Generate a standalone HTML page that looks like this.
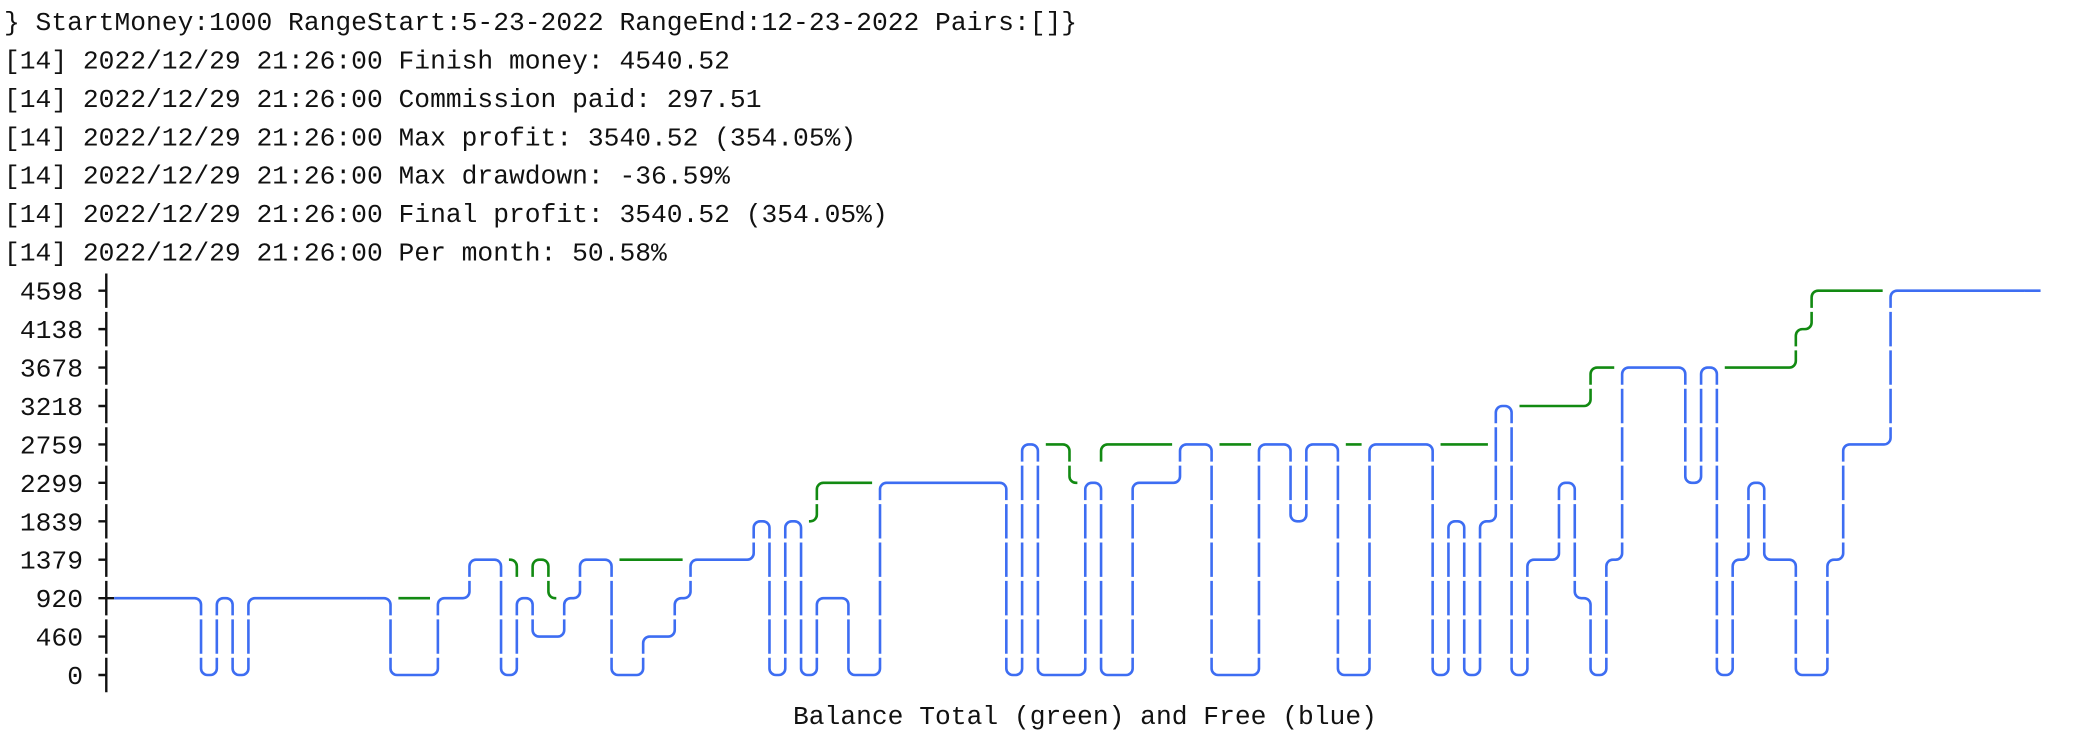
<!DOCTYPE html>
<html><head><meta charset="utf-8">
<style>
html,body{margin:0;padding:0;background:#fff;}
svg{display:block;}
.t{font-family:"Liberation Mono",monospace;font-size:26.3px;fill:#111;}
</style></head>
<body>
<svg id="chart" width="2077" height="732" viewBox="0 0 2077 732" xmlns="http://www.w3.org/2000/svg">
<rect width="2077" height="732" fill="#fff"/>
<g>
<text class="t" x="4" y="30" xml:space="preserve">} StartMoney:1000 RangeStart:5-23-2022 RangeEnd:12-23-2022 Pairs:[]}</text>
<text class="t" x="4" y="68.4" xml:space="preserve">[14] 2022/12/29 21:26:00 Finish money: 4540.52</text>
<text class="t" x="4" y="106.9" xml:space="preserve">[14] 2022/12/29 21:26:00 Commission paid: 297.51</text>
<text class="t" x="4" y="145.3" xml:space="preserve">[14] 2022/12/29 21:26:00 Max profit: 3540.52 (354.05%)</text>
<text class="t" x="4" y="183.7" xml:space="preserve">[14] 2022/12/29 21:26:00 Max drawdown: -36.59%</text>
<text class="t" x="4" y="222.2" xml:space="preserve">[14] 2022/12/29 21:26:00 Final profit: 3540.52 (354.05%)</text>
<text class="t" x="4" y="260.6" xml:space="preserve">[14] 2022/12/29 21:26:00 Per month: 50.58%</text>
</g>
<g id="yaxis"></g>
<g id="plot"></g>
<text class="t" x="793" y="724" xml:space="preserve">Balance Total (green) and Free (blue)</text>
</svg>
<script>
const tickLabels = ["0","460","920","1379","1839","2299","2759","3218","3678","4138","4598"];
const maxValue = 4598;
const totalSeries = [
920,920,920,920,920,920,920,920,920,920,
920,920,920,920,920,920,920,920,920,920,
920,920,920,1379,1379,1379,920,1379,920,920,
1379,1379,1379,1379,1379,1379,1379,1379,1379,1379,
1379,1839,1839,1839,1839,2299,2299,2299,2299,2299,
2299,2299,2299,2299,2299,2299,2299,2299,2759,2759,
2759,2299,2299,2759,2759,2759,2759,2759,2759,2759,
2759,2759,2759,2759,2759,2759,2759,2759,2759,2759,
2759,2759,2759,2759,2759,2759,2759,2759,3218,3218,
3218,3218,3218,3218,3678,3678,3678,3678,3678,3678,
3678,3678,3678,3678,3678,3678,3678,4138,4598,4598,
4598,4598,4598,4598,4598,4598,4598,4598,4598,4598,
4598,4598,4598];
const freeSeries = [
920,920,920,920,920,920,0,920,0,920,
920,920,920,920,920,920,920,920,0,0,
0,920,920,1379,1379,0,920,460,460,920,
1379,1379,0,0,460,460,920,1379,1379,1379,
1379,1839,0,1839,0,920,920,0,0,2299,
2299,2299,2299,2299,2299,2299,2299,0,2759,0,
0,0,2299,0,0,2299,2299,2299,2759,2759,
0,0,0,2759,2759,1839,2759,2759,0,0,
2759,2759,2759,2759,0,1839,0,1839,3218,0,
1379,1379,2299,920,0,1379,3678,3678,3678,3678,
2299,3678,0,1379,2299,1379,1379,0,0,1379,
2759,2759,2759,4598,4598,4598,4598,4598,4598,4598,
4598,4598,4598];

const NS = "http://www.w3.org/2000/svg";
const CW = 15.79, X0 = 98.4, RH = 38.43, Y0 = 675, R = 6.5, G = 2;
const ROWS = tickLabels.length - 1;
function level(v){ return Math.round(v / maxValue * ROWS); }
function cellLeft(c){ return X0 + c * CW; }
function rowCenter(L){ return Y0 - L * RH; }

// y axis
const yaxis = document.getElementById('yaxis');
const firstLevel = level(freeSeries[0]);
for (let L = 0; L <= ROWS; L++) {
  const cy = rowCenter(L), l = cellLeft(0), cx = l + CW/2;
  const t = document.createElementNS(NS, 'text');
  t.setAttribute('class', 't');
  t.setAttribute('x', 83);
  t.setAttribute('y', cy + 9);
  t.setAttribute('text-anchor', 'end');
  t.textContent = tickLabels[L];
  
  
  yaxis.appendChild(t);
  const p = document.createElementNS(NS, 'path');
  let d = `M${cx},${cy - RH/2 + G}V${cy + RH/2 - G}M${l},${cy}H${cx}`;
  if (L === firstLevel) d += `H${l + CW}`;
  p.setAttribute('d', d);
  p.setAttribute('stroke', '#111');
  p.setAttribute('stroke-width', '2.4');
  p.setAttribute('fill', 'none');
  
  
  yaxis.appendChild(p);
}

// build cell grid like asciigraph (later series overwrites cells)
const grid = {};
function plotSeries(series, color) {
  for (let i = 0; i < series.length - 1; i++) {
    const c = i + 1;
    const a = level(series[i]), b = level(series[i+1]);
    if (a === b) { grid[c + ',' + a] = ['h', color]; continue; }
    if (a > b) { grid[c + ',' + b] = ['bl', color]; grid[c + ',' + a] = ['tr', color]; }
    else { grid[c + ',' + b] = ['tl', color]; grid[c + ',' + a] = ['br', color]; }
    const lo = Math.min(a, b), hi = Math.max(a, b);
    for (let L = lo + 1; L < hi; L++) grid[c + ',' + L] = ['v', color];
  }
}
plotSeries(totalSeries, '#128a12');
plotSeries(freeSeries, '#3d6df2');

const plot = document.getElementById('plot');
const paths = {};
for (const key in grid) {
  const [c, L] = key.split(',').map(Number);
  const [type, color] = grid[key];
  const l = cellLeft(c), r = l + CW, cx = l + CW/2, cy = rowCenter(L);
  const top = cy - RH/2 + G, bot = cy + RH/2 - G;
  let d = '';
  if (type === 'h') d = `M${l},${cy}H${r}`;
  else if (type === 'v') d = `M${cx},${top}V${bot}`;
  else if (type === 'tl') d = `M${r},${cy}H${cx+R}A${R},${R} 0 0 0 ${cx},${cy+R}V${bot}`;
  else if (type === 'tr') d = `M${l},${cy}H${cx-R}A${R},${R} 0 0 1 ${cx},${cy+R}V${bot}`;
  else if (type === 'br') d = `M${l},${cy}H${cx-R}A${R},${R} 0 0 0 ${cx},${cy-R}V${top}`;
  else if (type === 'bl') d = `M${r},${cy}H${cx+R}A${R},${R} 0 0 1 ${cx},${cy-R}V${top}`;
  paths[color] = (paths[color] || '') + d;
}
const names = {'#128a12': 'total-balance-line', '#3d6df2': 'free-balance-line'};
for (const color of ['#128a12', '#3d6df2']) {
  const p = document.createElementNS(NS, 'path');
  p.setAttribute('d', paths[color] || '');
  p.setAttribute('stroke', color);
  p.setAttribute('stroke-width', '2.6');
  p.setAttribute('fill', 'none');
  
  
  plot.appendChild(p);
}
</script>
</body></html>
